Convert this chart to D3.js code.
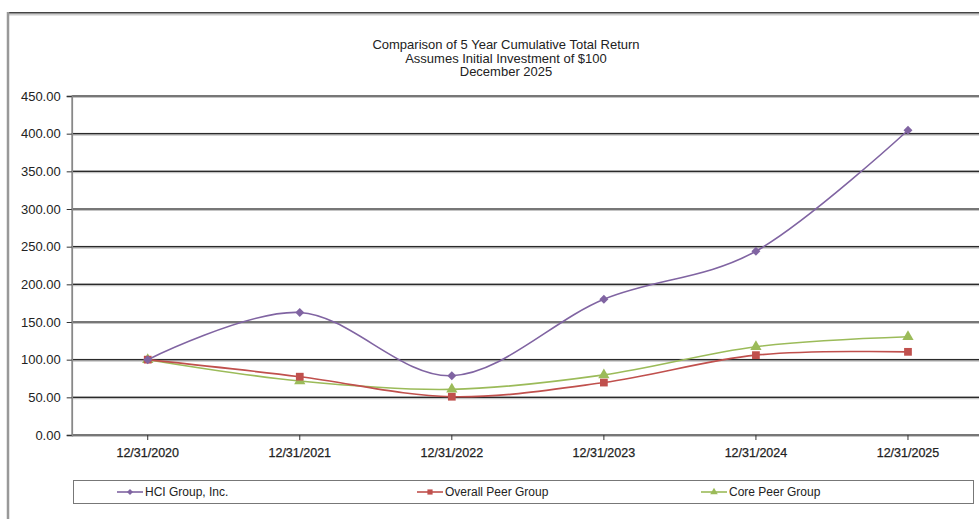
<!DOCTYPE html>
<html>
<head>
<meta charset="utf-8">
<script src="https://cdn.jsdelivr.net/npm/d3@7"></script>
<style>
  body { margin: 0; background: #fff; }
  text { font-family: "Liberation Sans", Arial, sans-serif; fill: #222; }
</style>
</head>
<body>
<div id="chart"></div>
<script>
// chart data
let years = ["12/31/2020", "12/31/2021", "12/31/2022", "12/31/2023", "12/31/2024", "12/31/2025"];
let hciValues = [100, 162.7, 78.7, 180.2, 244.0, 404.5];
let overallValues = [100, 77.4, 50.8, 69.6, 106.0, 110.4];
let coreValues = [100, 71.6, 60.6, 79.8, 117.2, 130.4];
let yTicks = [0, 50, 100, 150, 200, 250, 300, 350, 400, 450];
let titleLines = ["Comparison of 5 Year Cumulative Total Return", "Assumes Initial Investment of $100", "December 2025"];

let series = [
    { name: "HCI Group, Inc.", values: hciValues, color: "#8064A2", marker: d3.symbolSquare, rotate: 45, size: 40, legendX: 117 },
    { name: "Overall Peer Group", values: overallValues, color: "#C0504D", marker: d3.symbolSquare, rotate: 0, size: 60, legendX: 417 },
    { name: "Core Peer Group", values: coreValues, color: "#9BBB59", marker: d3.symbolTriangle, rotate: 0, size: 55, legendX: 701 }
];

let W = 979, H = 519;

let svg = d3.select('#chart').append('svg')
    .attr('width', W)
    .attr('height', H);

// outer frame
svg.append("line").attr("x1", 8).attr("x2", W).attr("y1", 14.5).attr("y2", 14.5)
    .attr("stroke", "#ccc").attr("stroke-width", 2);
svg.append("line").attr("x1", 7).attr("x2", W).attr("y1", 12.8).attr("y2", 12.8)
    .attr("stroke", "#444").attr("stroke-width", 1.6);
svg.append("line").attr("x1", 8).attr("x2", 8).attr("y1", 12).attr("y2", H)
    .attr("stroke", "#999").attr("stroke-width", 2.5);

// title
svg.append("g").selectAll("text").data(titleLines).enter().append("text")
    .attr("x", 506)
    .attr("y", (d, i) => 49 + i * 13.5)
    .attr("text-anchor", "middle")
    .attr("font-size", "13px")
    .text(d => d);

// scales
let x = d3.scaleBand().domain(years).range([71.7, 984]);
let y = d3.scaleLinear().domain([0, 450]).range([435, 96]);
let cx = d => x(d) + x.bandwidth() / 2;

// gridlines with shadow
let grid = svg.append("g");
grid.selectAll("line.shadow").data(yTicks).enter().append("line")
    .attr("class", "shadow")
    .attr("x1", 71.7).attr("x2", W)
    .attr("y1", d => y(d) + 0.5).attr("y2", d => y(d) + 0.5)
    .attr("stroke", "#c4c4c4").attr("stroke-width", 3);
grid.selectAll("line.main").data(yTicks).enter().append("line")
    .attr("class", "main")
    .attr("x1", 71.7).attr("x2", W)
    .attr("y1", d => y(d)).attr("y2", d => y(d))
    .attr("stroke", "#2a2a2a").attr("stroke-width", 1.1);

// y axis
let yAxis = d3.axisLeft(y)
    .tickValues(yTicks)
    .tickSize(5)
    .tickPadding(6)
    .tickFormat(d3.format(".2f"));
let yg = svg.append("g")
    .attr("transform", "translate(71.7,0)")
    .call(yAxis);
yg.select(".domain").attr("stroke", "#888").attr("stroke-width", 1.8);
yg.selectAll(".tick line").attr("stroke", "#333");
yg.selectAll("text").attr("font-size", "13px").attr("font-family", null).attr("fill", "#222");

// x axis
let xAxis = d3.axisBottom(x).tickSize(5).tickPadding(8);
let xg = svg.append("g")
    .attr("transform", "translate(0,435)")
    .call(xAxis);
xg.select(".domain").remove();
xg.selectAll(".tick line").attr("stroke", "#333");
xg.selectAll("text").attr("font-size", "12.5px").attr("font-family", null)
    .attr("fill", "#222").attr("stroke", "#222").attr("stroke-width", 0.25);

// lines
let line = d3.line()
    .x((d, i) => cx(years[i]))
    .y(d => y(d))
    .curve(d3.curveCatmullRom.alpha(0));

let drawOrder = [series[2], series[1], series[0]];
drawOrder.forEach(function (s) {
    svg.append("path")
        .datum(s.values)
        .attr("fill", "none")
        .attr("stroke", s.color)
        .attr("stroke-width", 1.6)
        .attr("d", line);

    svg.append("g").selectAll("path").data(s.values).enter().append("path")
        .attr("transform", (d, i) => "translate(" + cx(years[i]) + "," + y(d) + ") rotate(" + s.rotate + ")")
        .attr("d", d3.symbol().type(s.marker).size(s.size))
        .attr("fill", s.color);
});

// legend
svg.append("rect")
    .attr("x", 73.5).attr("y", 480.5)
    .attr("width", 900).attr("height", 23)
    .attr("fill", "#fff")
    .attr("stroke", "#777");

series.forEach(function (s) {
    let row = svg.append("g").attr("transform", "translate(" + s.legendX + ",492)");
    row.append("line").attr("x1", 0).attr("x2", 26).attr("y1", 0).attr("y2", 0)
        .attr("stroke", s.color).attr("stroke-width", 1.6);
    row.append("path").attr("transform", "translate(13,0) rotate(" + s.rotate + ")")
        .attr("d", d3.symbol().type(s.marker).size(s.size * 0.45))
        .attr("fill", s.color);
    row.append("text")
        .attr("x", 28).attr("y", 4)
        .attr("font-size", "12px")
        .text(s.name);
});
</script>
</body>
</html>
